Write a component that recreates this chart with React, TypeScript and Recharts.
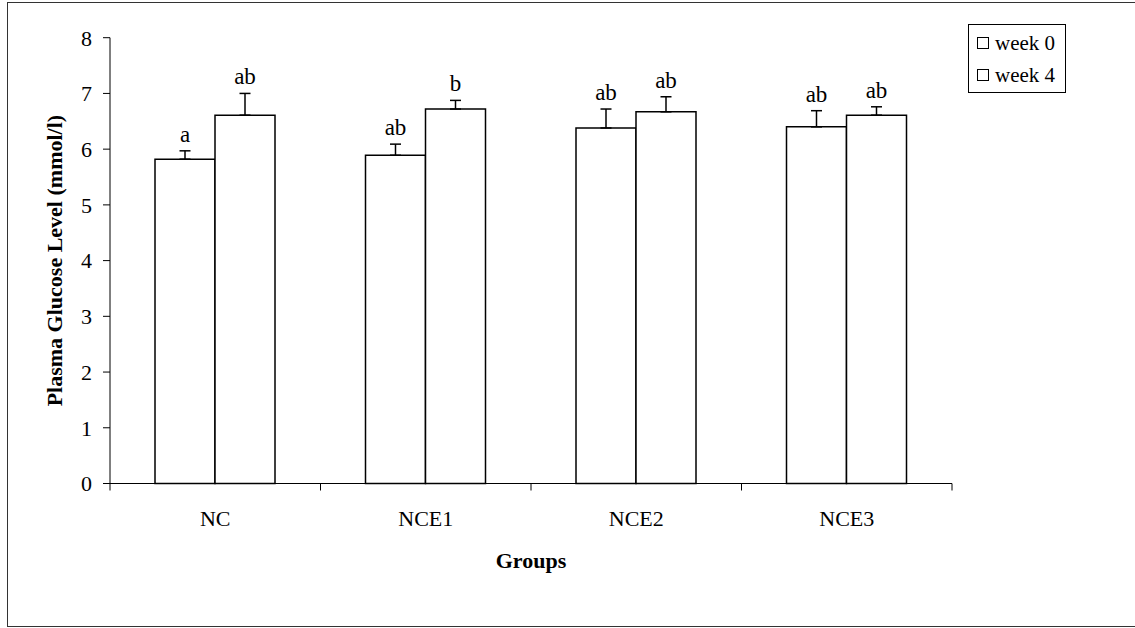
import { BarChart, Bar, XAxis, YAxis, ErrorBar, LabelList, Legend } from "recharts";

const GROUPS = ["NC", "NCE1", "NCE2", "NCE3"];
const WEEK0 = [5.82, 5.89, 6.38, 6.4];
const WEEK0_SE = [0.15, 0.2, 0.34, 0.29];
const WEEK4 = [6.61, 6.72, 6.67, 6.61];
const WEEK4_SE = [0.39, 0.155, 0.27, 0.15];
const WEEK0_LETTERS = ["a", "ab", "ab", "ab"];
const WEEK4_LETTERS = ["ab", "b", "ab", "ab"];
const Y_TICKS = [0, 1, 2, 3, 4, 5, 6, 7, 8];
const SERIES = [
  { key: "w0", name: "week 0" },
  { key: "w4", name: "week 4" },
];

const FONT = "Liberation Serif, Tinos, Times New Roman, Times, DejaVu Serif, serif";

const W = 1135;
const H = 628;
const PLOT_LEFT = 110;
const PLOT_RIGHT = 952;
const PLOT_TOP = 37.7;
const PLOT_BOTTOM = 483.5;
const Y_AXIS_W = 60;
const X_AXIS_H = 60;
const BAND = (PLOT_RIGHT - PLOT_LEFT) / GROUPS.length;

const chartData = GROUPS.map((group, i) => ({
  group,
  w0: WEEK0[i],
  w0err: [0, WEEK0_SE[i]],
  w4: WEEK4[i],
  w4err: [0, WEEK4_SE[i]],
}));

// letter above the error bar cap
const letterLabel = (values: number[], errs: number[], letters: string[]) => (props: any) => {
  const { x, y, width, height, index } = props;
  const errPx = (height * errs[index]) / values[index];
  return (
    <text
      x={x + width / 2}
      y={y - errPx - 9}
      textAnchor="middle"
      style={{ fontFamily: FONT }}
      fontSize={23}
      fill="#000"
    >
      {letters[index]}
    </text>
  );
};

// category ticks sit between the groups, like the original
const GroupTick = (props: any) => {
  const { x, payload, index } = props;
  const y0 = PLOT_BOTTOM;
  const last = index === GROUPS.length - 1;
  return (
    <g>
      <line x1={x - BAND / 2} y1={y0} x2={x - BAND / 2} y2={y0 + 7} stroke="#000" strokeWidth={1} />
      {last && <line x1={x + BAND / 2} y1={y0} x2={x + BAND / 2} y2={y0 + 7} stroke="#000" strokeWidth={1} />}
      <text x={x} y={y0 + 27} dy="0.71em" textAnchor="middle" style={{ fontFamily: FONT }} fontSize={22} fill="#000">
        {payload.value}
      </text>
    </g>
  );
};

const LegendBox = () => (
  <div
    style={{
      border: "1px solid #000",
      background: "#fff",
      padding: "2px 4px 2px 8px",
      fontFamily: FONT,
      fontSize: 21,
      lineHeight: "32px",
      color: "#000",
      boxSizing: "border-box",
      width: 98,
      height: 69,
    }}
  >
    {SERIES.map((s) => (
      <div key={s.key} style={{ display: "flex", alignItems: "center", whiteSpace: "nowrap" }}>
        <span
          style={{
            display: "inline-block",
            width: 10,
            height: 10,
            border: "1px solid #000",
            background: "#fff",
            marginRight: 6,
          }}
        />
        {s.name}
      </div>
    ))}
  </div>
);

export default function App() {
  return (
    <div style={{ position: "absolute", left: 0, top: 0, width: W, height: H, overflow: "hidden", background: "#fff", fontFamily: FONT }}>
      <div
        style={{
          position: "absolute",
          left: 7,
          top: 2,
          width: W + 20,
          height: 625,
          border: "1.5px solid #333",
          boxSizing: "border-box",
        }}
      />
      <BarChart
        width={W}
        height={H}
        data={chartData}
        barSize={60}
        barGap={0}
        margin={{
          top: PLOT_TOP,
          right: W - PLOT_RIGHT,
          bottom: H - PLOT_BOTTOM - X_AXIS_H,
          left: PLOT_LEFT - Y_AXIS_W,
        }}
        style={{ position: "absolute", left: 0, top: 0, fontFamily: FONT }}
      >
        <XAxis
          dataKey="group"
          height={X_AXIS_H}
          tickLine={false}
          axisLine={{ stroke: "#000", strokeWidth: 1 }}
          tick={GroupTick}
          interval={0}
          label={(p: any) => {
            const vb = p.viewBox;
            return (
              <text
                x={vb.x + vb.width / 2}
                y={PLOT_BOTTOM + 84.5}
                textAnchor="middle"
                style={{ fontFamily: FONT }}
                fontWeight="bold"
                fontSize={22}
                fill="#000"
              >
                Groups
              </text>
            );
          }}
        />
        <YAxis
          width={Y_AXIS_W}
          domain={[0, 8]}
          ticks={Y_TICKS}
          interval={0}
          tickSize={7}
          tickMargin={11}
          tickLine={{ stroke: "#000", strokeWidth: 1 }}
          axisLine={{ stroke: "#000", strokeWidth: 1 }}
          tick={{ fontFamily: FONT, fontSize: 22, fill: "#000", style: { fontFamily: FONT } }}
          label={() => (
            <text
              x={55}
              y={(PLOT_TOP + PLOT_BOTTOM) / 2}
              transform={`rotate(-90 55 ${(PLOT_TOP + PLOT_BOTTOM) / 2})`}
              textAnchor="middle"
              dominantBaseline="central"
              style={{ fontFamily: FONT }}
              fontWeight="bold"
              fontSize={22}
              fill="#000"
            >
              Plasma Glucose Level (mmol/l)
            </text>
          )}
        />
        <Legend
          layout="vertical"
          align="center"
          verticalAlign="middle"
          content={LegendBox}
          wrapperStyle={{ left: 968, top: 24, width: 98 }}
        />
        <Bar dataKey="w0" name="week 0" fill="#fff" stroke="#000" strokeWidth={1.5} isAnimationActive={false}>
          <ErrorBar dataKey="w0err" width={5.5} stroke="#000" strokeWidth={1.5} direction="y" />
          <LabelList dataKey="w0" content={letterLabel(WEEK0, WEEK0_SE, WEEK0_LETTERS)} />
        </Bar>
        <Bar dataKey="w4" name="week 4" fill="#fff" stroke="#000" strokeWidth={1.5} isAnimationActive={false}>
          <ErrorBar dataKey="w4err" width={5.5} stroke="#000" strokeWidth={1.5} direction="y" />
          <LabelList dataKey="w4" content={letterLabel(WEEK4, WEEK4_SE, WEEK4_LETTERS)} />
        </Bar>
      </BarChart>
    </div>
  );
}
